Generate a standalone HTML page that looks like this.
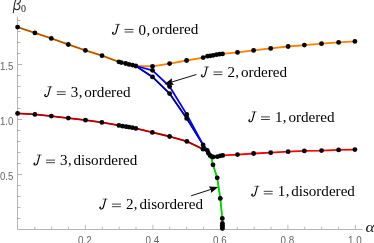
<!DOCTYPE html>
<html><head><meta charset="utf-8"><title>Phase diagram</title>
<style>
html,body{margin:0;padding:0;background:#fff;}
body{width:374px;height:243px;overflow:hidden;position:relative;font-family:"Liberation Sans",sans-serif;}
</style></head><body>
<svg width="374" height="243" viewBox="0 0 374 243" style="position:absolute;left:0;top:0;will-change:transform">
<g stroke="#b4b4b4" stroke-width="1" fill="none">
<line x1="17.5" y1="16.8" x2="17.5" y2="230"/>
<line x1="17" y1="229.5" x2="362.6" y2="229.5"/>
<line x1="34.77" y1="229" x2="34.77" y2="226.6" stroke-width="0.9"/>
<line x1="51.65" y1="229" x2="51.65" y2="226.6" stroke-width="0.9"/>
<line x1="68.53" y1="229" x2="68.53" y2="226.6" stroke-width="0.9"/>
<line x1="85.4" y1="229" x2="85.4" y2="224.8" stroke-width="0.9"/>
<line x1="102.28" y1="229" x2="102.28" y2="226.6" stroke-width="0.9"/>
<line x1="119.15" y1="229" x2="119.15" y2="226.6" stroke-width="0.9"/>
<line x1="136.03" y1="229" x2="136.03" y2="226.6" stroke-width="0.9"/>
<line x1="152.9" y1="229" x2="152.9" y2="224.8" stroke-width="0.9"/>
<line x1="169.78" y1="229" x2="169.78" y2="226.6" stroke-width="0.9"/>
<line x1="186.65" y1="229" x2="186.65" y2="226.6" stroke-width="0.9"/>
<line x1="203.53" y1="229" x2="203.53" y2="226.6" stroke-width="0.9"/>
<line x1="220.4" y1="229" x2="220.4" y2="224.8" stroke-width="0.9"/>
<line x1="237.28" y1="229" x2="237.28" y2="226.6" stroke-width="0.9"/>
<line x1="254.15" y1="229" x2="254.15" y2="226.6" stroke-width="0.9"/>
<line x1="271.02" y1="229" x2="271.02" y2="226.6" stroke-width="0.9"/>
<line x1="287.9" y1="229" x2="287.9" y2="224.8" stroke-width="0.9"/>
<line x1="304.78" y1="229" x2="304.78" y2="226.6" stroke-width="0.9"/>
<line x1="321.65" y1="229" x2="321.65" y2="226.6" stroke-width="0.9"/>
<line x1="338.52" y1="229" x2="338.52" y2="226.6" stroke-width="0.9"/>
<line x1="355.4" y1="229" x2="355.4" y2="224.8" stroke-width="0.9"/>
<line x1="18" y1="218.5" x2="20.5" y2="218.5"/>
<line x1="18" y1="207.5" x2="20.5" y2="207.5"/>
<line x1="18" y1="196.5" x2="20.5" y2="196.5"/>
<line x1="18" y1="185.5" x2="20.5" y2="185.5"/>
<line x1="18" y1="174.5" x2="22.2" y2="174.5"/>
<line x1="18" y1="163.5" x2="20.5" y2="163.5"/>
<line x1="18" y1="152.5" x2="20.5" y2="152.5"/>
<line x1="18" y1="141.5" x2="20.5" y2="141.5"/>
<line x1="18" y1="130.5" x2="20.5" y2="130.5"/>
<line x1="18" y1="119.5" x2="22.2" y2="119.5"/>
<line x1="18" y1="108.5" x2="20.5" y2="108.5"/>
<line x1="18" y1="97.5" x2="20.5" y2="97.5"/>
<line x1="18" y1="86.5" x2="20.5" y2="86.5"/>
<line x1="18" y1="75.5" x2="20.5" y2="75.5"/>
<line x1="18" y1="64.5" x2="22.2" y2="64.5"/>
<line x1="18" y1="53.5" x2="20.5" y2="53.5"/>
<line x1="18" y1="42.5" x2="20.5" y2="42.5"/>
<line x1="18" y1="31.5" x2="20.5" y2="31.5"/>
<line x1="18" y1="20.5" x2="20.5" y2="20.5"/>
</g>
<g font-family="Liberation Sans, sans-serif" font-size="10.3px" fill="#666666">
<text transform="translate(84.85,244.0) scale(0.955,1)" text-anchor="middle">0.2</text>
<text transform="translate(152.35,244.0) scale(0.955,1)" text-anchor="middle">0.4</text>
<text transform="translate(219.85,244.0) scale(0.955,1)" text-anchor="middle">0.6</text>
<text transform="translate(287.35,244.0) scale(0.955,1)" text-anchor="middle">0.8</text>
<text transform="translate(354.85,244.0) scale(0.955,1)" text-anchor="middle">1.0</text>
<text transform="translate(13.4,180.10) scale(0.94,1)" text-anchor="end">0.5</text>
<text transform="translate(13.4,125.10) scale(0.94,1)" text-anchor="end">1.0</text>
<text transform="translate(13.4,70.10) scale(0.94,1)" text-anchor="end">1.5</text>
</g>
<g font-family="Liberation Serif, serif" font-style="italic" fill="#111">
<path d="M13.3,12.7 L14.45,4.6 C14.9,1.4 16.4,-1.6 18.4,-1.6 C20.5,-1.6 20.9,1.2 19.6,2.7 C18.9,3.5 17.9,4.0 16.7,4.1 C18.5,4.2 20.0,5.2 19.9,6.8 C19.8,8.6 18.4,9.7 16.8,9.7 C15.6,9.7 14.7,9.1 14.3,8.0" fill="none" stroke="#222" stroke-width="1.05" stroke-linecap="round"/>
<text x="21.0" y="11.9" font-size="10px" font-style="normal">0</text>
<text transform="translate(365.5,232.1) scale(1.1,1)" font-size="15.6px">α</text>
</g>
<polyline points="17.6,27.1 34.9,32.9 51.3,38.4 68.3,44.5 85.4,50.4 102.0,55.7 118.9,61.8 121.4,62.6 125.6,63.5 129.0,64.4 132.4,65.1 135.8,66.0" fill="none" stroke="#ff8000" stroke-width="1.8" stroke-linejoin="round"/><polyline points="17.6,27.1 34.9,32.9 51.3,38.4 68.3,44.5 85.4,50.4 102.0,55.7 118.9,61.8 121.4,62.6 125.6,63.5 129.0,64.4 132.4,65.1 135.8,66.0" fill="none" stroke="#a85400" stroke-width="1.35" stroke-linejoin="round"/>
<polyline points="17.6,113.4 34.9,114.4 51.3,116.1 68.3,118.1 85.5,120.2 101.9,122.4 118.9,125.4 122.5,126.2 126.1,126.7 129.0,127.1 132.3,127.7 135.8,128.4 152.4,132.4 169.6,136.5 186.9,141.4 203.1,149.2 207.2,150.3" fill="none" stroke="#ff0000" stroke-width="1.8" stroke-linejoin="round"/><polyline points="17.6,113.4 34.9,114.4 51.3,116.1 68.3,118.1 85.5,120.2 101.9,122.4 118.9,125.4 122.5,126.2 126.1,126.7 129.0,127.1 132.3,127.7 135.8,128.4 152.4,132.4 169.6,136.5 186.9,141.4 203.1,149.2 207.2,150.3" fill="none" stroke="#a00000" stroke-width="1.35" stroke-linejoin="round"/>
<polyline points="135.8,66.0 152.5,66.3 169.6,63.6 186.6,60.5 203.2,57.6 207.5,56.2 210.3,55.8 213.2,55.3 216.5,54.7 219.6,54.2 222.5,53.9 237.5,52.4 253.6,50.4 270.7,48.4 288.1,46.5 304.4,45.1 321.5,43.7 338.6,42.4 354.9,41.4" fill="none" stroke="#ff8000" stroke-width="1.8" stroke-linejoin="round"/>
<polyline points="211.5,156.6 213.0,157.0 217.3,156.7 220.3,155.8 222.7,155.4 237.5,154.6 253.6,153.5 270.7,152.7 288.1,151.7 304.4,150.9 321.5,150.6 338.6,149.9 354.9,149.6" fill="none" stroke="#ff0000" stroke-width="1.8" stroke-linejoin="round"/>
<polyline points="135.8,66.0 152.5,76.9 169.6,93.6 186.7,118.4 203.1,144.9 207.2,150.3" fill="none" stroke="#0000ff" stroke-width="1.8" stroke-linejoin="round"/><polyline points="135.8,66.0 152.5,76.9 169.6,93.6 186.7,118.4 203.1,144.9 207.2,150.3" fill="none" stroke="#000098" stroke-width="1.35" stroke-linejoin="round"/>
<polyline points="135.8,66.0 152.5,70.3 169.6,86.5 186.7,114.4 203.1,144.9 207.2,150.3" fill="none" stroke="#0000ff" stroke-width="1.8" stroke-linejoin="round"/>
<polyline points="211.2,157.0 213.0,164.8 217.2,177.8 220.3,198.4 222.3,218.4 222.4,223.5 222.4,225.3 222.4,227.0 222.4,228.6" fill="none" stroke="#00ff00" stroke-width="1.8" stroke-linejoin="round"/><polyline points="211.2,157.0 213.0,164.8 217.2,177.8 220.3,198.4 222.3,218.4 222.4,223.5 222.4,225.3 222.4,227.0 222.4,228.6" fill="none" stroke="#00d000" stroke-width="1.35" stroke-linejoin="round"/>
<g fill="#000">
<circle cx="17.6" cy="27.1" r="2.42"/>
<circle cx="17.6" cy="113.4" r="2.42"/>
<circle cx="34.9" cy="32.9" r="2.42"/>
<circle cx="34.9" cy="114.4" r="2.42"/>
<circle cx="51.3" cy="38.4" r="2.42"/>
<circle cx="51.3" cy="116.1" r="2.42"/>
<circle cx="68.3" cy="44.5" r="2.42"/>
<circle cx="68.3" cy="118.1" r="2.42"/>
<circle cx="85.4" cy="50.4" r="2.42"/>
<circle cx="85.5" cy="120.2" r="2.42"/>
<circle cx="101.9" cy="122.4" r="2.42"/>
<circle cx="102.0" cy="55.7" r="2.42"/>
<circle cx="118.9" cy="61.8" r="2.42"/>
<circle cx="118.9" cy="125.4" r="2.42"/>
<circle cx="121.4" cy="62.6" r="2.42"/>
<circle cx="122.5" cy="126.2" r="2.42"/>
<circle cx="125.6" cy="63.5" r="2.42"/>
<circle cx="126.1" cy="126.7" r="2.42"/>
<circle cx="129.0" cy="64.4" r="2.42"/>
<circle cx="129.0" cy="127.1" r="2.42"/>
<circle cx="132.3" cy="127.7" r="2.42"/>
<circle cx="132.4" cy="65.1" r="2.42"/>
<circle cx="135.8" cy="66.0" r="2.42"/>
<circle cx="135.8" cy="128.4" r="2.42"/>
<circle cx="152.4" cy="132.4" r="2.42"/>
<circle cx="152.5" cy="66.3" r="2.42"/>
<circle cx="152.5" cy="70.3" r="2.42"/>
<circle cx="152.5" cy="76.9" r="2.42"/>
<circle cx="169.6" cy="63.6" r="2.42"/>
<circle cx="169.6" cy="86.5" r="2.42"/>
<circle cx="169.6" cy="93.6" r="2.42"/>
<circle cx="169.6" cy="136.5" r="2.42"/>
<circle cx="186.6" cy="60.5" r="2.42"/>
<circle cx="186.7" cy="114.4" r="2.42"/>
<circle cx="186.7" cy="118.4" r="2.42"/>
<circle cx="186.9" cy="141.4" r="2.42"/>
<circle cx="203.1" cy="144.9" r="2.42"/>
<circle cx="203.1" cy="149.2" r="2.42"/>
<circle cx="203.2" cy="57.6" r="2.42"/>
<circle cx="207.2" cy="150.3" r="2.42"/>
<circle cx="207.5" cy="56.2" r="2.42"/>
<circle cx="208.3" cy="153.1" r="2.42"/>
<circle cx="210.0" cy="155.5" r="2.42"/>
<circle cx="210.3" cy="55.8" r="2.42"/>
<circle cx="211.5" cy="156.6" r="2.42"/>
<circle cx="213.0" cy="157.0" r="2.42"/>
<circle cx="213.0" cy="164.8" r="2.42"/>
<circle cx="213.2" cy="55.3" r="2.42"/>
<circle cx="216.5" cy="54.7" r="2.42"/>
<circle cx="217.2" cy="177.8" r="2.42"/>
<circle cx="217.3" cy="156.7" r="2.42"/>
<circle cx="219.6" cy="54.2" r="2.42"/>
<circle cx="220.3" cy="155.8" r="2.42"/>
<circle cx="220.3" cy="198.4" r="2.42"/>
<circle cx="222.3" cy="218.4" r="2.42"/>
<circle cx="222.4" cy="223.5" r="2.42"/>
<circle cx="222.4" cy="225.3" r="2.42"/>
<circle cx="222.4" cy="227.0" r="2.42"/>
<circle cx="222.4" cy="228.6" r="2.42"/>
<circle cx="222.5" cy="53.9" r="2.42"/>
<circle cx="222.7" cy="155.4" r="2.42"/>
<circle cx="237.5" cy="52.4" r="2.42"/>
<circle cx="237.5" cy="154.6" r="2.42"/>
<circle cx="253.6" cy="50.4" r="2.42"/>
<circle cx="253.6" cy="153.5" r="2.42"/>
<circle cx="270.7" cy="48.4" r="2.42"/>
<circle cx="270.7" cy="152.7" r="2.42"/>
<circle cx="288.1" cy="46.5" r="2.42"/>
<circle cx="288.1" cy="151.7" r="2.42"/>
<circle cx="304.4" cy="45.1" r="2.42"/>
<circle cx="304.4" cy="150.9" r="2.42"/>
<circle cx="321.5" cy="43.7" r="2.42"/>
<circle cx="321.5" cy="150.6" r="2.42"/>
<circle cx="338.6" cy="42.4" r="2.42"/>
<circle cx="338.6" cy="149.9" r="2.42"/>
<circle cx="354.9" cy="41.4" r="2.42"/>
<circle cx="354.9" cy="149.6" r="2.42"/>
</g>
<line x1="196.4" y1="74.5" x2="171.8" y2="82.0" stroke="#000" stroke-width="0.95"/><polygon points="164.4,84.3 171.9,78.3 171.8,82.0 173.9,85.0" fill="#000"/>
<line x1="191.1" y1="195.8" x2="211.0" y2="189.4" stroke="#000" stroke-width="0.95"/><polygon points="218.3,187.1 210.9,193.1 211.0,189.4 208.8,186.5" fill="#000"/>
<g font-family="Liberation Serif, serif" font-size="14.5px" fill="#000"><g transform="translate(112.10,34.2)" fill="none" stroke="#000" stroke-linecap="round" stroke-linejoin="round"><path d="M3.6,-9.85 H7.75" stroke-width="0.55"/><path d="M6.05,-9.7 L3.95,-1.9 C3.55,-0.5 2.8,0.05 1.9,0.05 C0.9,0.05 0.25,-0.6 0.35,-1.4" stroke-width="1.1"/><circle cx="0.95" cy="-1.75" r="0.75" fill="#000" stroke="none"/></g><path d="M124.60,29.40 h8.9 M124.60,32.00 h8.9" stroke="#000" stroke-width="0.75" fill="none"/><text transform="translate(138.50,34.50) scale(1.04,1.03)">0</text><text x="146.45" y="34.50">,</text><text x="152.00" y="34.40" font-size="15.2px" textLength="46.30" lengthAdjust="spacingAndGlyphs">ordered</text></g>
<g font-family="Liberation Serif, serif" font-size="14.5px" fill="#000"><g transform="translate(201.00,76.8)" fill="none" stroke="#000" stroke-linecap="round" stroke-linejoin="round"><path d="M3.6,-9.85 H7.75" stroke-width="0.55"/><path d="M6.05,-9.7 L3.95,-1.9 C3.55,-0.5 2.8,0.05 1.9,0.05 C0.9,0.05 0.25,-0.6 0.35,-1.4" stroke-width="1.1"/><circle cx="0.95" cy="-1.75" r="0.75" fill="#000" stroke="none"/></g><path d="M213.50,72.00 h8.9 M213.50,74.60 h8.9" stroke="#000" stroke-width="0.75" fill="none"/><text transform="translate(227.40,77.10) scale(1.04,1.03)">2</text><text x="235.35" y="77.10">,</text><text x="240.90" y="77.00" font-size="15.2px" textLength="46.30" lengthAdjust="spacingAndGlyphs">ordered</text></g>
<g font-family="Liberation Serif, serif" font-size="14.5px" fill="#000"><g transform="translate(248.50,121.7)" fill="none" stroke="#000" stroke-linecap="round" stroke-linejoin="round"><path d="M3.6,-9.85 H7.75" stroke-width="0.55"/><path d="M6.05,-9.7 L3.95,-1.9 C3.55,-0.5 2.8,0.05 1.9,0.05 C0.9,0.05 0.25,-0.6 0.35,-1.4" stroke-width="1.1"/><circle cx="0.95" cy="-1.75" r="0.75" fill="#000" stroke="none"/></g><path d="M261.00,116.90 h8.9 M261.00,119.50 h8.9" stroke="#000" stroke-width="0.75" fill="none"/><text transform="translate(274.90,122.00) scale(1.04,1.03)">1</text><text x="282.85" y="122.00">,</text><text x="288.40" y="121.90" font-size="15.2px" textLength="46.30" lengthAdjust="spacingAndGlyphs">ordered</text></g>
<g font-family="Liberation Serif, serif" font-size="14.5px" fill="#000"><g transform="translate(44.30,96.6)" fill="none" stroke="#000" stroke-linecap="round" stroke-linejoin="round"><path d="M3.6,-9.85 H7.75" stroke-width="0.55"/><path d="M6.05,-9.7 L3.95,-1.9 C3.55,-0.5 2.8,0.05 1.9,0.05 C0.9,0.05 0.25,-0.6 0.35,-1.4" stroke-width="1.1"/><circle cx="0.95" cy="-1.75" r="0.75" fill="#000" stroke="none"/></g><path d="M56.80,91.80 h8.9 M56.80,94.40 h8.9" stroke="#000" stroke-width="0.75" fill="none"/><text transform="translate(70.70,96.90) scale(1.04,1.03)">3</text><text x="78.65" y="96.90">,</text><text x="84.20" y="96.80" font-size="15.2px" textLength="46.30" lengthAdjust="spacingAndGlyphs">ordered</text></g>
<g font-family="Liberation Serif, serif" font-size="14.5px" fill="#000"><g transform="translate(33.60,164.9)" fill="none" stroke="#000" stroke-linecap="round" stroke-linejoin="round"><path d="M3.6,-9.85 H7.75" stroke-width="0.55"/><path d="M6.05,-9.7 L3.95,-1.9 C3.55,-0.5 2.8,0.05 1.9,0.05 C0.9,0.05 0.25,-0.6 0.35,-1.4" stroke-width="1.1"/><circle cx="0.95" cy="-1.75" r="0.75" fill="#000" stroke="none"/></g><path d="M46.10,160.10 h8.9 M46.10,162.70 h8.9" stroke="#000" stroke-width="0.75" fill="none"/><text transform="translate(60.00,165.20) scale(1.04,1.03)">3</text><text x="67.95" y="165.20">,</text><text x="73.50" y="165.10" font-size="15.2px" textLength="63.70" lengthAdjust="spacingAndGlyphs">disordered</text></g>
<g font-family="Liberation Serif, serif" font-size="14.5px" fill="#000"><g transform="translate(99.50,208.9)" fill="none" stroke="#000" stroke-linecap="round" stroke-linejoin="round"><path d="M3.6,-9.85 H7.75" stroke-width="0.55"/><path d="M6.05,-9.7 L3.95,-1.9 C3.55,-0.5 2.8,0.05 1.9,0.05 C0.9,0.05 0.25,-0.6 0.35,-1.4" stroke-width="1.1"/><circle cx="0.95" cy="-1.75" r="0.75" fill="#000" stroke="none"/></g><path d="M112.00,204.10 h8.9 M112.00,206.70 h8.9" stroke="#000" stroke-width="0.75" fill="none"/><text transform="translate(125.90,209.20) scale(1.04,1.03)">2</text><text x="133.85" y="209.20">,</text><text x="139.40" y="209.10" font-size="15.2px" textLength="63.70" lengthAdjust="spacingAndGlyphs">disordered</text></g>
<g font-family="Liberation Serif, serif" font-size="14.5px" fill="#000"><g transform="translate(251.30,196.1)" fill="none" stroke="#000" stroke-linecap="round" stroke-linejoin="round"><path d="M3.6,-9.85 H7.75" stroke-width="0.55"/><path d="M6.05,-9.7 L3.95,-1.9 C3.55,-0.5 2.8,0.05 1.9,0.05 C0.9,0.05 0.25,-0.6 0.35,-1.4" stroke-width="1.1"/><circle cx="0.95" cy="-1.75" r="0.75" fill="#000" stroke="none"/></g><path d="M263.80,191.30 h8.9 M263.80,193.90 h8.9" stroke="#000" stroke-width="0.75" fill="none"/><text transform="translate(277.70,196.40) scale(1.04,1.03)">1</text><text x="285.65" y="196.40">,</text><text x="291.20" y="196.30" font-size="15.2px" textLength="63.70" lengthAdjust="spacingAndGlyphs">disordered</text></g>
</svg>
</body></html>
